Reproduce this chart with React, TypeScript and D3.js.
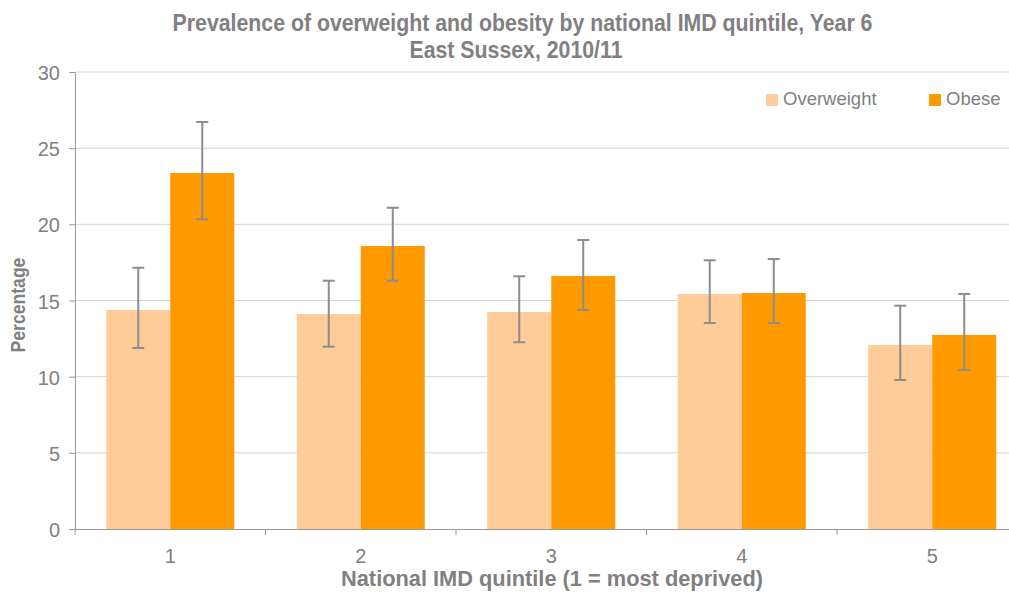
import * as d3 from "d3";
import { useEffect, useRef } from "react";

const quintiles = ["1", "2", "3", "4", "5"];
const seriesNames = ["Overweight", "Obese"];
const seriesColors = ["#FFCC99", "#FF9900"];

const overweight = [14.38, 14.11, 14.25, 15.43, 12.08];
const overweightLow = [11.88, 11.97, 12.26, 13.52, 9.78];
const overweightHigh = [17.15, 16.3, 16.59, 17.64, 14.66];

const obese = [23.37, 18.58, 16.61, 15.49, 12.74];
const obeseLow = [20.33, 16.3, 14.38, 13.52, 10.44];
const obeseHigh = [26.72, 21.09, 18.97, 17.72, 15.43];

const yTicks = [0, 5, 10, 15, 20, 25, 30];

const W = 1009;
const H = 594;

export default function App() {
  const ref = useRef<SVGSVGElement>(null);

  useEffect(() => {
    const svg = d3.select(ref.current);
    svg.selectAll("*").remove();

    const left = 75;
    const top = 72;
    const bottom = 529;
    const bandW = 190.5;

    const x0 = d3
      .scaleBand()
      .domain(quintiles)
      .range([left, left + bandW * quintiles.length])
      .padding(0);
    const x1 = d3
      .scaleBand()
      .domain(seriesNames)
      .range([0, x0.bandwidth()])
      .paddingInner(0)
      .paddingOuter(0.488);
    const y = d3.scaleLinear().domain([0, 30]).range([bottom, top]);

    const rows = quintiles.map((q, i) => ({
      q,
      items: [
        { s: seriesNames[0], v: overweight[i], lo: overweightLow[i], hi: overweightHigh[i] },
        { s: seriesNames[1], v: obese[i], lo: obeseLow[i], hi: obeseHigh[i] },
      ],
    }));

    const font = "Liberation Sans, Arial, sans-serif";
    const grey = "#808080";

    // gridlines
    svg
      .append("g")
      .selectAll("line")
      .data(yTicks.filter((t) => t > 0))
      .join("line")
      .attr("x1", left)
      .attr("x2", W)
      .attr("y1", (d) => y(d))
      .attr("y2", (d) => y(d))
      .attr("stroke", "#d4d4d4")
      .attr("stroke-width", 1);

    // bars
    const groups = svg
      .append("g")
      .selectAll("g")
      .data(rows)
      .join("g")
      .attr("transform", (d) => `translate(${x0(d.q)},0)`);

    groups
      .selectAll("rect")
      .data((d) => d.items)
      .join("rect")
      .attr("x", (d) => x1(d.s)!)
      .attr("width", x1.bandwidth())
      .attr("y", (d) => y(d.v))
      .attr("height", (d) => y(0) - y(d.v))
      .attr("fill", (d, i) => seriesColors[i]);

    // error bars
    const err = groups
      .selectAll("g.err")
      .data((d) => d.items)
      .join("g")
      .attr("class", "err")
      .attr("stroke", "#8c8c8c")
      .attr("stroke-width", 2);
    const cx = (d: any) => x1(d.s)! + x1.bandwidth() / 2;
    err
      .append("line")
      .attr("x1", cx)
      .attr("x2", cx)
      .attr("y1", (d) => y(d.lo))
      .attr("y2", (d) => y(d.hi));
    err
      .append("line")
      .attr("x1", (d) => cx(d) - 6)
      .attr("x2", (d) => cx(d) + 6)
      .attr("y1", (d) => y(d.lo))
      .attr("y2", (d) => y(d.lo));
    err
      .append("line")
      .attr("x1", (d) => cx(d) - 6)
      .attr("x2", (d) => cx(d) + 6)
      .attr("y1", (d) => y(d.hi))
      .attr("y2", (d) => y(d.hi));

    // y axis
    const yAxis = svg
      .append("g")
      .attr("transform", `translate(${left},0)`)
      .call(d3.axisLeft(y).tickValues(yTicks).tickSize(6).tickSizeOuter(0).tickPadding(9));
    yAxis.select(".domain").attr("stroke", "#999");
    yAxis.selectAll(".tick line").attr("stroke", "#999");
    yAxis
      .selectAll(".tick text")
      .attr("fill", grey)
      .attr("font-family", font)
      .attr("font-size", 20)
      .attr("dy", "0.38em");

    // x axis
    const xAxis = svg
      .append("g")
      .attr("transform", `translate(0,${bottom})`)
      .call(d3.axisBottom(x0).tickSize(0).tickPadding(20));
    xAxis.select(".domain").attr("stroke", "#999");
    xAxis
      .selectAll(".tick text")
      .attr("fill", grey)
      .attr("font-family", font)
      .attr("font-size", 20);
    xAxis
      .selectAll("line.sep")
      .data(quintiles)
      .join("line")
      .attr("class", "sep")
      .attr("x1", (d) => x0(d)!)
      .attr("x2", (d) => x0(d)!)
      .attr("y1", 0)
      .attr("y2", 6)
      .attr("stroke", "#999");

    // stretched bold label helper
    const label = (
      txt: string,
      tx: number,
      ty: number,
      size: number,
      rot = 0,
      sy = 1.15
    ) =>
      svg
        .append("g")
        .attr("transform", `translate(${tx},${ty}) rotate(${rot}) scale(1,${sy})`)
        .append("text")
        .attr("text-anchor", "middle")
        .attr("fill", grey)
        .attr("font-family", font)
        .attr("font-weight", "bold")
        .attr("font-size", size)
        .text(txt);

    label("Prevalence of overweight and obesity by national IMD quintile, Year 6", 522.5, 31, 21.3);
    label("East Sussex, 2010/11", 516, 58, 21.3);
    label("National IMD quintile (1 = most deprived)", 552, 586, 21.8, 0, 1.05);
    label("Percentage", 25, 305, 17.6, -90, 1.2);

    // legend
    const legendX = [766, 929];
    const lg = svg
      .append("g")
      .selectAll("g")
      .data(seriesNames)
      .join("g")
      .attr("transform", (d, i) => `translate(${legendX[i]},94)`);
    lg.append("rect")
      .attr("width", 12)
      .attr("height", 12)
      .attr("fill", (d, i) => seriesColors[i]);
    lg.append("text")
      .attr("x", 17)
      .attr("y", 11)
      .attr("fill", grey)
      .attr("font-family", font)
      .attr("font-size", 18.5)
      .text((d) => d);
  }, []);

  return (
    <svg
      ref={ref}
      width={W}
      height={H}
      style={{ position: "absolute", left: 0, top: 0, background: "#fff" }}
    />
  );
}
